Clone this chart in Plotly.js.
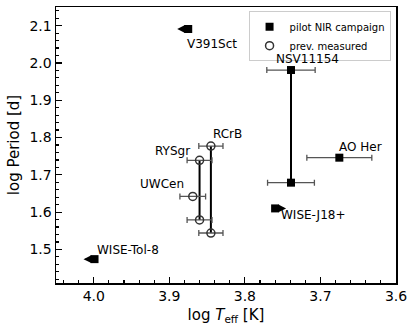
<!DOCTYPE html>
<html>
<head>
<meta charset="utf-8">
<script src="https://cdn.plot.ly/plotly-3.0.1.min.js"></script>
<style>
  html, body { margin: 0; padding: 0; background: #fff; }
  #plot { width: 416px; height: 331px; }
</style>
</head>
<body>
<div id="plot"></div>
<script>
// pilot NIR campaign (filled squares)
const pilotNames = ['V391Sct', 'NSV11154', 'NSV11154', 'AO Her', 'WISE-J18+', 'WISE-Tol-8'];
const pilotTeff = [3.875, 3.739, 3.739, 3.675, 3.760, 3.999];
const pilotPeriod = [2.091, 1.981, 1.679, 1.746, 1.610, 1.474];
const pilotTeffErr = [null, 0.032, 0.031, 0.043, null, null];
// limit arrows: -1 = towards hotter (left), +1 = towards cooler (right)
const pilotLimit = [-1, 0, 0, 0, 1, -1];

// previously measured (open circles)
const prevNames = ['RCrB', 'RCrB', 'RYSgr', 'RYSgr', 'UWCen'];
const prevTeff = [3.845, 3.845, 3.860, 3.860, 3.869];
const prevPeriod = [1.777, 1.544, 1.739, 1.579, 1.642];
const prevTeffErr = [0.016, 0.016, 0.0165, 0.0165, 0.017];

// label placement (pixels relative to the marker)
const labelPos = {
  'V391Sct':    { anchor: 'left',   dx: -3, dy: -15 },
  'NSV11154':   { anchor: 'center', dx: 17, dy: 11 },
  'AO Her':     { anchor: 'left',   dx: -2, dy: 11 },
  'WISE-J18+':  { anchor: 'left',   dx: 4,  dy: -7 },
  'WISE-Tol-8': { anchor: 'left',   dx: 0,  dy: 9 },
  'RCrB':       { anchor: 'left',   dx: 0,  dy: 12 },
  'RYSgr':      { anchor: 'right',  dx: -8, dy: 9 },
  'UWCen':      { anchor: 'right',  dx: -7, dy: 12 }
};

const font = 'DejaVu Sans, sans-serif';
const traces = [];
const annotations = [];

// vertical lines joining the two estimates of the same star
function connectors(names, xs, ys) {
  const seen = {};
  names.forEach((n, i) => {
    if (seen[n] === undefined) { seen[n] = i; return; }
    const j = seen[n];
    traces.push({
      x: [xs[j], xs[i]], y: [ys[j], ys[i]],
      mode: 'lines', showlegend: false, hoverinfo: 'skip',
      line: { color: '#000', width: 2 }
    });
  });
}
connectors(pilotNames, pilotTeff, pilotPeriod);
connectors(prevNames, prevTeff, prevPeriod);

traces.push({
  x: pilotTeff, y: pilotPeriod,
  mode: 'markers', name: 'pilot NIR campaign',
  marker: { symbol: 'square', size: 8, color: '#000' },
  error_x: { type: 'data', array: pilotTeffErr, color: '#555', thickness: 1.3, width: 3 }
});
traces.push({
  x: prevTeff, y: prevPeriod,
  mode: 'markers', name: 'prev. measured',
  marker: { symbol: 'circle-open', size: 8, color: '#333', line: { width: 1.5, color: '#333' } },
  error_x: { type: 'data', array: prevTeffErr, color: '#555', thickness: 1.3, width: 3 }
});

// names: put each label next to the upper marker of its star
function addLabels(names, xs, ys) {
  const best = {};
  names.forEach((n, i) => {
    if (best[n] === undefined || ys[i] > ys[best[n]]) best[n] = i;
  });
  Object.keys(best).forEach(n => {
    const i = best[n];
    const p = labelPos[n];
    annotations.push({
      x: xs[i], y: ys[i], xref: 'x', yref: 'y',
      text: n, showarrow: false,
      xanchor: p.anchor, yanchor: 'middle',
      xshift: p.dx, yshift: p.dy,
      font: { family: font, size: 12, color: '#000' }
    });
  });
}
addLabels(pilotNames, pilotTeff, pilotPeriod);
addLabels(prevNames, prevTeff, prevPeriod);

// limit arrows
pilotLimit.forEach((d, i) => {
  if (!d) return;
  annotations.push({
    x: pilotTeff[i], y: pilotPeriod[i], xref: 'x', yref: 'y',
    text: '', showarrow: true,
    ax: -d * 11, ay: 0,
    xshift: d * 11,
    arrowhead: 2, arrowsize: 1.3, arrowwidth: 1.2, arrowcolor: '#000'
  });
});

const axisCommon = {
  showline: true, mirror: true, linecolor: '#000', linewidth: 1.5,
  ticks: 'inside', ticklen: 6, tickwidth: 1.2, tickcolor: '#000',
  showgrid: false, zeroline: false,
  tickfont: { family: font, size: 14, color: '#000' }
};

const layout = {
  width: 416, height: 331,
  margin: { l: 56, r: 20, t: 7, b: 48 },
  paper_bgcolor: '#fff', plot_bgcolor: '#fff',
  font: { family: font, color: '#000' },
  xaxis: Object.assign({}, axisCommon, {
    range: [4.05, 3.6], dtick: 0.1, tick0: 3.6, tickformat: '.1f',
    minor: { dtick: 0.02, ticks: 'inside', ticklen: 3, tickcolor: '#000' },
    title: { text: 'log <i>T</i><sub>eff</sub> [K]', font: { family: font, size: 15 }, standoff: 6 }
  }),
  yaxis: Object.assign({}, axisCommon, {
    range: [1.41, 2.15], dtick: 0.1, tick0: 1.5, tickformat: '.1f',
    minor: { dtick: 0.02, ticks: 'inside', ticklen: 3, tickcolor: '#000' },
    title: { text: 'log Period [d]', font: { family: font, size: 15 }, standoff: 6 }
  }),
  legend: {
    x: 0.984, y: 0.985, xanchor: 'right', yanchor: 'top',
    bgcolor: '#fff', bordercolor: '#ccc', borderwidth: 1,
    font: { family: font, size: 10, color: '#000' },
    tracegroupgap: 0, itemwidth: 30
  },
  annotations
};

Plotly.newPlot('plot', traces, layout, { displayModeBar: false, staticPlot: true });
</script>
</body>
</html>
